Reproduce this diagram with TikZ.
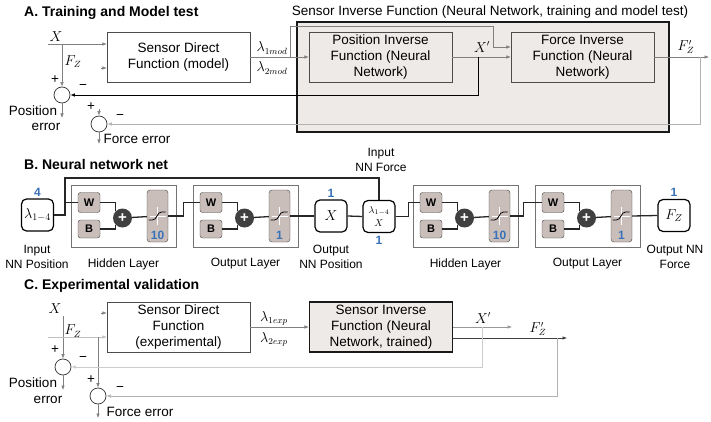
\documentclass[tikz,border=0pt]{standalone}
\usepackage{fontspec}
\setmainfont{Liberation Sans}
\usetikzlibrary{arrows.meta,positioning}
\definecolor{sifgray}{HTML}{EEEAE8}
\definecolor{nngray}{HTML}{C9BEBA}
\definecolor{nnblue}{HTML}{3A72B8}
\definecolor{sumgray}{HTML}{404040}

\begin{document}
\begin{tikzpicture}[x=1pt, y=-1pt,
	box/.style={draw=black!70, minimum width=143pt, minimum height=50pt, inner sep=1pt, align=center, font=\fontsize{13.5}{16}\selectfont},
	sif/.style={box, draw=black!90, line width=1.1pt, fill=sifgray},
	lab/.style={align=center, inner sep=1pt, font=\fontsize{13.5}{16}\selectfont},
	small/.style={align=center, inner sep=1pt, font=\fontsize{12}{14.5}\selectfont},
	title/.style={anchor=west, inner sep=0pt, font=\fontsize{14}{16}\selectfont\bfseries},
	conn/.style={draw=black!50, line width=0.6pt, -{Latex[length=4.5pt,width=3.5pt]}},
	fback/.style={conn, draw=black!30},
	errc/.style={circle, draw=black!80, line width=0.7pt, minimum size=16pt, inner sep=0pt},
	iobox/.style={draw, line width=1.2pt, rounded corners=5pt, minimum width=32pt, minimum height=32pt, inner sep=1pt, align=center, font=\fontsize{14}{16}\selectfont},
	layerbox/.style={draw=black!55, line width=0.6pt, minimum width=105pt, minimum height=62pt},
	wbox/.style={draw=black!75, fill=nngray, rounded corners=2.5pt, minimum width=22pt, minimum height=20pt, inner sep=0pt, font=\fontsize{11}{12}\selectfont\bfseries},
	sumnode/.style={circle, fill=sumgray, text=white, minimum size=19pt, inner sep=0pt, font=\fontsize{15}{15}\selectfont\bfseries},
	sigbox/.style={draw=black!75, fill=nngray, rounded corners=3pt, minimum width=21pt, minimum height=52pt},
	cnt/.style={text=nnblue, inner sep=0pt, font=\fontsize{12}{12}\selectfont\bfseries},
	nnline/.style={draw=black!85, line width=1.3pt}]
\useasboundingbox (0,0) rectangle (711,422);

% A. training and model test
\node[title] (tA) at (24,13) {A. Training and Model test};
\node[draw=black!90, line width=1.2pt, fill=sifgray, minimum width=372pt, minimum height=110pt] (sifA) at (483,77) {};
\node[lab] (sifAt) at (490,12) {Sensor Inverse Function (Neural Network, training and model test)};
\node[box] (sdfA) at (178.5,57) {Sensor Direct\\Function (model)};
\node[box] (pifA) at (380.5,57) {Position Inverse\\Function (Neural\\Network)};
\node[box] (fifA) at (582.5,57) {Force Inverse\\Function (Neural\\Network)};
\node[errc] (posA) at (62,95) {};
\node[errc] (forA) at (99,124) {};

\coordinate (xA) at (48,44);
\node[lab] (xAl) at (56,37) {$X$};
\draw[conn] (xA) -- ([yshift=13pt]sdfA.west);
\draw[conn] (xA -| posA) -- (posA);
\node[lab] (fzAl) at (73,62) {$F_Z$};
\draw[conn] ([xshift=-6pt,yshift=-11pt]sdfA.west) -- ([yshift=-11pt]sdfA.west);
\draw[conn] (sdfA.east) -- (pifA.west);
\node[lab] (l1A) at (272,48) {$\lambda_{1mod}$};
\node[lab] (l2A) at (272,68) {$\lambda_{2mod}$};
\coordinate (brA) at (290,57);
\draw[conn] (brA) |- (493,26) |- ([yshift=10pt]fifA.west);
\draw[conn] (pifA.east) -- (fifA.west);
\node[lab] (xpA) at (482,47) {$X'$};
\draw[conn] (fifA.east) -- (709,57);
\node[lab] (fzpA) at (686,47) {$F'_Z$};
\draw[conn, draw=black, line width=0.8pt] (478,57) |- (posA.east);
\draw[fback] (700,57) |- (forA.east);
\node[lab] (pA) at (55,80) {+};
\node[lab] (mA) at (83,87) {−};
\node[lab] (p2A) at (91,107) {+};
\node[lab] (m2A) at (120,117) {−};
\draw[conn] ([yshift=7pt]forA.north) -- (forA.north);
\draw[conn] (posA.south) -- (62,118);
\draw[conn] (forA.south) -- (99,144);
\node[lab] (peA) at (33,111) {Position};
\node[lab] (peA2) at (46,127) {error};
\node[lab] (feA) at (137,139) {Force error};

% B. neural network
\node[title] (tB) at (24,164) {B. Neural network net};
\node[iobox] (inP) at (37.5,215) {$\lambda_{1-4}$};
\node[cnt, above=2pt] (inPn) at (inP.north) {4};
\node[small] (inPl) at (37,257) {Input\\NN Position};
\node[iobox] (xP) at (331,216) {$X$};
\node[cnt, above=2pt] (xPn) at (xP.north) {1};
\node[small] (xPl) at (331,257) {Output\\NN Position};
\node[iobox, font=\fontsize{10}{10}\selectfont] (inF) at (379,216.5) {$\lambda_{1-4}$\\[3pt]$X$};
\node[cnt, below=3pt] (inFn) at (inF.south) {1};
\node[small] (inFl) at (381,160) {Input\\NN Force};
\node[iobox] (fzP) at (674,215.5) {$F_Z$};
\node[cnt, above=2pt] (fzPn) at (fzP.north) {1};
\node[small] (fzPl) at (675,257) {Output NN\\Force};

\foreach \nm/\lx/\cnum/\txt in {hA/123.5/10/Hidden Layer, oA/245.5/1/Output Layer, hB/465.5/10/Hidden Layer, oB/587.5/1/Output Layer} {
	\node[layerbox] (\nm) at (\lx,216) {};
	\node[wbox] (\nm w) at (\lx-34.5,202.5) {W};
	\node[wbox, minimum height=18pt] (\nm b) at (\lx-34.5,229) {B};
	\node[sumnode] (\nm s) at (\lx-1,218) {+};
	\node[sigbox] (\nm g) at (\lx+34,216) {};
	\node[cnt] (\nm n) at ([yshift=7pt]\nm g.south) {\cnum};
	\node[small] (\nm l) at (\lx,264) {\txt};
	\draw[draw=black!85, line width=0.8pt] (\nm w.east) -| (\nm s.north west);
	\draw[nnline] (\nm b.east) -| (\nm s.south west);
	\draw[nnline] (\nm s) -- (\nm g);
	\draw[white, line width=1pt] ([xshift=-8pt]\nm g.center) -- ([xshift=8pt]\nm g.center)
		([yshift=9pt]\nm g.center) -- ([yshift=-9pt]\nm g.center);
	\draw[black, line width=0.8pt] ([shift={(-9,4)}]\nm g.center) -- ++(4,0) to[out=0,in=180] ++(9,-8) -- ++(4,0);
}

\coordinate (topL) at (65,178);
\draw[nnline] (inP.east) -| (topL) -| (inF.north);
\draw[nnline] (topL |- hAw.west) -- (hAw.west);
\draw[nnline] (hAg.east) -- ++(15,0) |- (oAw.west);
\draw[nnline] (oAg.east) -- (xP.west);
\draw[nnline] (xP.east) -- (inF.west);
\draw[nnline] (inF.east) -- ++(13,0) |- (hBw.west);
\draw[nnline] (hBg.east) -- ++(13,0) |- (oBw.west);
\draw[nnline] (oBg.east) -- (fzP.west);

% C. experimental validation
\node[title] (tC) at (24,286) {C. Experimental validation};
\node[box] (sdfC) at (178.5,327) {Sensor Direct\\Function\\(experimental)};
\node[sif] (sifC) at (381,327) {Sensor Inverse\\Function (Neural\\Network, trained)};
\node[errc] (posC) at (63,367) {};
\node[errc] (forC) at (98,396) {};

\node[lab] (xCl) at (55,309) {$X$};
\draw[conn] (63,316) -- (posC);
\coordinate (fzC) at (48,337);
\node[lab] (fzCl) at (73,331) {$F_Z$};
\draw[conn, draw=black!25] (fzC) -- ([yshift=-10pt]sdfC.west);
\draw[conn] (fzC -| forC) -- (forC);
\draw[conn] ([xshift=-6pt,yshift=14pt]sdfC.west) -- ([yshift=14pt]sdfC.west);
\draw[conn] (sdfC.east) -- (sifC.west);
\node[lab] (l1C) at (274,318) {$\lambda_{1exp}$};
\node[lab] (l2C) at (274,339) {$\lambda_{2exp}$};
\draw[conn, draw=black!40] (sifC.east) -- (512,327);
\node[lab] (xpC) at (483,318) {$X'$};
\draw[conn, draw=black!75] ([yshift=-11pt]sifC.east) -- (567,338);
\node[lab] (fzpC) at (538,329) {$F'_Z$};
\draw[fback, draw=black!20] (482,327) |- (posC.east);
\draw[fback] (557,338) |- (forC.east);
\node[lab] (pC) at (55,350) {+};
\node[lab] (mC) at (83,359) {−};
\node[lab] (p2C) at (91,380) {+};
\node[lab] (m2C) at (120,389) {−};
\draw[conn] (posC.south) -- (63,390);
\draw[conn] (forC.south) -- (98,418);
\node[lab] (peC) at (33,383) {Position};
\node[lab] (peC2) at (48,400) {error};
\node[lab] (feC) at (140,412) {Force error};
\end{tikzpicture}
\end{document}
